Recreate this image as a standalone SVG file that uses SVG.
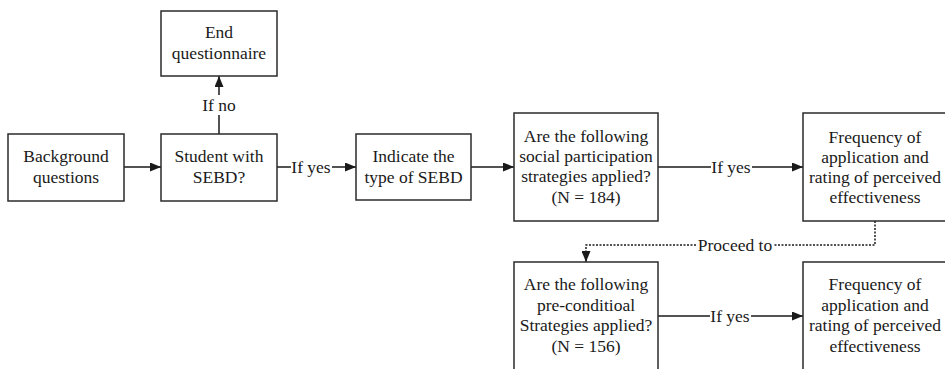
<svg xmlns="http://www.w3.org/2000/svg" width="945" height="369" viewBox="0 0 945 369">
  <style>
    .box { fill: #ffffff; stroke: #2b2b2b; stroke-width: 1.5; }
    .txt { font-family: "Liberation Serif", "Times New Roman", serif; font-size: 17.5px; fill: #1a1a1a; text-anchor: middle; }
    .line { fill: none; stroke: #1a1a1a; stroke-width: 1.5; }
    .dot { fill: none; stroke: #1a1a1a; stroke-width: 1.5; stroke-dasharray: 2 1.5; }
    .lbl-bg { fill: #ffffff; }
  </style>
  <defs>
    <marker id="arrow" markerWidth="11" markerHeight="9" refX="11" refY="4.5" orient="auto" markerUnits="userSpaceOnUse">
      <path d="M0,0 L11,4.5 L0,9 Z" fill="#1a1a1a"/>
    </marker>
  </defs>
  <rect width="945" height="369" fill="#ffffff"/>

  <!-- connectors -->
  <g id="connectors">
    <path class="line" d="M124,167 H161" marker-end="url(#arrow)"/>
    <path class="line" d="M219,134 V76" marker-end="url(#arrow)"/>
    <path class="line" d="M277,167 H356" marker-end="url(#arrow)"/>
    <path class="line" d="M471,167 H514" marker-end="url(#arrow)"/>
    <path class="line" d="M658,167 H803" marker-end="url(#arrow)"/>
    <path class="dot" d="M875,221 V245 H586 V252"/>
    <path class="line" d="M586,251 V262" marker-end="url(#arrow)"/>
    <path class="line" d="M658,316 H803" marker-end="url(#arrow)"/>

    <!-- connector labels -->
    <rect class="lbl-bg" x="207" y="95" width="24" height="20"/>
    <text class="txt" x="219" y="111">If no</text>
    <rect class="lbl-bg" x="291" y="157" width="41" height="20"/>
    <text class="txt" x="311" y="173">If yes</text>
    <rect class="lbl-bg" x="711" y="157" width="41" height="20"/>
    <text class="txt" x="731" y="173">If yes</text>
    <rect class="lbl-bg" x="697" y="236" width="76" height="20"/>
    <text class="txt" x="735" y="251">Proceed to</text>
    <rect class="lbl-bg" x="710" y="306" width="41" height="20"/>
    <text class="txt" x="730" y="322">If yes</text>
  </g>

  <g id="end-questionnaire">
    <rect class="box" x="161" y="11" width="116" height="65"/>
    <text class="txt" x="219" y="38">End</text>
    <text class="txt" x="219" y="59">questionnaire</text>
  </g>

  <g id="background-questions">
    <rect class="box" x="8" y="134" width="116" height="67"/>
    <text class="txt" x="66" y="162">Background</text>
    <text class="txt" x="66" y="183">questions</text>
  </g>

  <g id="student-sebd">
    <rect class="box" x="161" y="134" width="116" height="67"/>
    <text class="txt" x="219" y="162">Student with</text>
    <text class="txt" x="219" y="183">SEBD?</text>
  </g>

  <g id="indicate-type">
    <rect class="box" x="356" y="134" width="115" height="66"/>
    <text class="txt" x="413.5" y="162">Indicate the</text>
    <text class="txt" x="413.5" y="183">type of SEBD</text>
  </g>

  <g id="social-participation">
    <rect class="box" x="514" y="113" width="144" height="108"/>
    <text class="txt" x="586" y="142">Are the following</text>
    <text class="txt" x="586" y="162">social participation</text>
    <text class="txt" x="586" y="182">strategies applied?</text>
    <text class="txt" x="586" y="203">(N = 184)</text>
  </g>

  <g id="frequency-top">
    <rect class="box" x="803" y="113" width="146" height="108"/>
    <text class="txt" x="875" y="143">Frequency of</text>
    <text class="txt" x="875" y="163">application and</text>
    <text class="txt" x="875" y="183">rating of perceived</text>
    <text class="txt" x="875" y="203">effectiveness</text>
  </g>

  <g id="pre-conditional">
    <rect class="box" x="514" y="262" width="144" height="112"/>
    <text class="txt" x="586" y="290">Are the following</text>
    <text class="txt" x="586" y="310.5">pre-conditioal</text>
    <text class="txt" x="586" y="331">Strategies applied?</text>
    <text class="txt" x="586" y="351.5">(N = 156)</text>
  </g>

  <g id="frequency-bottom">
    <rect class="box" x="803" y="262" width="146" height="112"/>
    <text class="txt" x="875" y="290">Frequency of</text>
    <text class="txt" x="875" y="310.5">application and</text>
    <text class="txt" x="875" y="331">rating of perceived</text>
    <text class="txt" x="875" y="351.5">effectiveness</text>
  </g>
</svg>
